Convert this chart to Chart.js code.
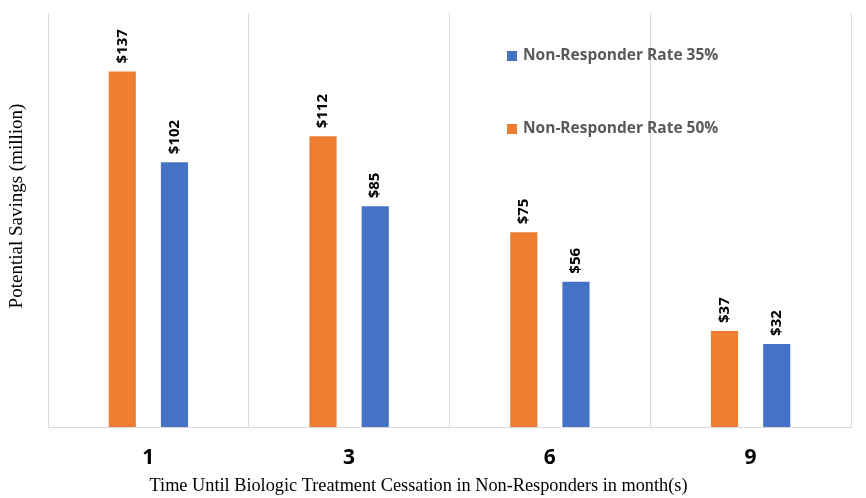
<!DOCTYPE html>
<html>
<head>
<meta charset="utf-8">
<script src="https://cdn.jsdelivr.net/npm/chart.js@4.4.1/dist/chart.umd.min.js"></script>
<style>
  html, body { margin: 0; padding: 0; background: #ffffff; }
  #wrap { width: 866px; height: 498px; position: relative; }
</style>
</head>
<body>
<div id="wrap"><canvas id="chart" width="866" height="498"></canvas></div>
<script>
// Months until biologic therapy is stopped in non-responders
const months = ['1', '3', '6', '9'];
// Potential savings in $ million
const savingsRate50 = [137, 112, 75, 37];
const savingsRate35 = [102, 85, 56, 32];
const seriesNames = ['Non-Responder Rate 50%', 'Non-Responder Rate 35%'];
const seriesColors = ['#ED7D31', '#4472C4'];
const yTitle = 'Potential Savings (million)';
const xTitle = 'Time Until Biologic Treatment Cessation in Non-Responders in month(s)';

const SANS = '"Open Sans", "Liberation Sans", sans-serif';
const SERIF = '"Liberation Serif", "DejaVu Serif", serif';

// Rotated "$value" labels sitting above each bar
const barValueLabels = {
  id: 'barValueLabels',
  afterDatasetsDraw(chart) {
    const ctx = chart.ctx;
    ctx.save();
    ctx.font = 'bold 15px ' + SANS;
    ctx.fillStyle = '#000000';
    ctx.textAlign = 'left';
    ctx.textBaseline = 'middle';
    chart.data.datasets.forEach((ds, i) => {
      chart.getDatasetMeta(i).data.forEach((bar, j) => {
        ctx.save();
        ctx.translate(bar.x, bar.y - 8);
        ctx.rotate(-Math.PI / 2);
        ctx.fillText('$' + ds.data[j], 0, 0);
        ctx.restore();
      });
    });
    ctx.restore();
  }
};

// Legend drawn inside the plot, upper right, listed 35% first
const innerLegend = {
  id: 'innerLegend',
  afterDraw(chart) {
    const ctx = chart.ctx;
    const area = chart.chartArea;
    const x0 = area.left + 459;
    const rows = [1, 0];
    ctx.save();
    ctx.font = 'bold 15.5px ' + SANS;
    ctx.textBaseline = 'middle';
    ctx.textAlign = 'left';
    rows.forEach((dsIndex, r) => {
      const ds = chart.data.datasets[dsIndex];
      const cy = area.top + 43 + r * 73;
      ctx.fillStyle = ds.backgroundColor;
      ctx.fillRect(x0, cy - 5, 10, 10);
      ctx.fillStyle = '#595959';
      ctx.fillText(ds.label, x0 + 16, cy);
    });
    ctx.restore();
  }
};

// Axis captions in a serif face
const axisCaptions = {
  id: 'axisCaptions',
  afterDraw(chart) {
    const ctx = chart.ctx;
    const area = chart.chartArea;
    ctx.save();
    ctx.fillStyle = '#000000';
    ctx.textAlign = 'center';
    ctx.textBaseline = 'middle';
    ctx.font = '18.3px ' + SERIF;
    ctx.fillText(xTitle, (area.left + area.right) / 2 - 31, area.bottom + 59);
    ctx.save();
    ctx.font = '19px ' + SERIF;
    ctx.translate(17, (area.top + area.bottom) / 2 - 14);
    ctx.rotate(-Math.PI / 2);
    ctx.fillText(yTitle, 0, 0);
    ctx.restore();
    ctx.restore();
  }
};

new Chart(document.getElementById('chart'), {
  type: 'bar',
  data: {
    labels: months,
    datasets: [
      { label: seriesNames[0], data: savingsRate50, backgroundColor: seriesColors[0] },
      { label: seriesNames[1], data: savingsRate35, backgroundColor: seriesColors[1] }
    ]
  },
  options: {
    responsive: false,
    animation: false,
    devicePixelRatio: 1,
    categoryPercentage: 0.52,
    barPercentage: 0.52,
    layout: { padding: { left: 0, right: 15, top: 13, bottom: 0 } },
    plugins: {
      legend: { display: false },
      tooltip: { enabled: false },
      title: { display: false }
    },
    scales: {
      x: {
        grid: { display: true, offset: true, color: '#d9d9d9', lineWidth: 1, drawTicks: false, tickLength: 0 },
        border: { display: true, color: '#d9d9d9', width: 1 },
        ticks: { color: '#000000', font: { family: SANS, size: 21, weight: 'bold' }, padding: 18 },
        afterFit(scale) { scale.height = 71; }
      },
      y: {
        min: 0,
        max: 159.5,
        grid: { display: false },
        border: { display: false },
        ticks: { display: false },
        afterFit(scale) { scale.width = 48; }
      }
    }
  },
  plugins: [barValueLabels, innerLegend, axisCaptions]
});
</script>
</body>
</html>
